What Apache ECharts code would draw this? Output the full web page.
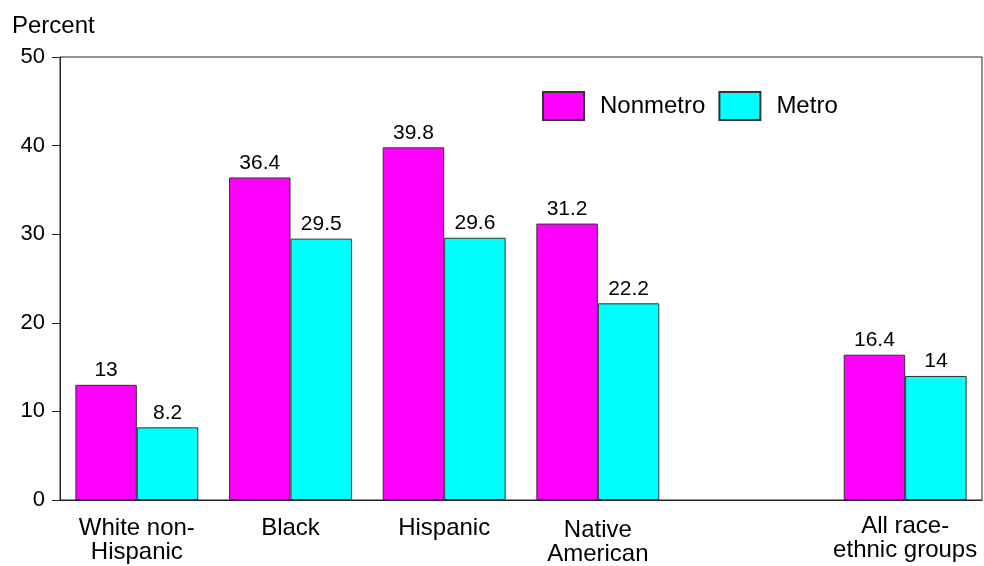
<!DOCTYPE html>
<html>
<head>
<meta charset="utf-8">
<script src="https://cdn.jsdelivr.net/npm/echarts@6/dist/echarts.min.js"></script>
<style>
  html, body { margin: 0; padding: 0; background: #fff; }
  #chart { width: 984px; height: 566px; }
</style>
</head>
<body>
<div id="chart"></div>
<script>
// Category slots; the empty slot separates the group total from the individual groups
const categories = ['White non-\nHispanic', 'Black', 'Hispanic', 'Native\nAmerican', '', 'All race-\nethnic groups'];
const nonmetro = [13, 36.4, 39.8, 31.2, null, 16.4];
const metro = [8.2, 29.5, 29.6, 22.2, null, 14];
const yTicks = [0, 10, 20, 30, 40, 50];

const FONT = 'Liberation Sans, Arial, Helvetica, sans-serif';

const chart = echarts.init(document.getElementById('chart'), null, { renderer: 'canvas' });

const labelStyle = {
  show: true,
  position: 'top',
  distance: 4,
  color: '#000',
  fontFamily: FONT,
  fontSize: 21
};

chart.setOption({
  animation: false,
  backgroundColor: '#fff',
  grid: {
    left: 60, right: 2, top: 57, bottom: 66,
    show: true, borderColor: '#222', borderWidth: 1, backgroundColor: 'transparent'
  },
  legend: {
    data: ['Nonmetro', 'Metro'],
    left: 542, top: 91, padding: 0,
    itemWidth: 41, itemHeight: 28,
    itemGap: 13,
    textStyle: { fontFamily: FONT, fontSize: 24, color: '#000', padding: [0, 0, 0, 11] },
    icon: 'rect'
  },
  xAxis: {
    type: 'category',
    data: categories.map(function (c) {
      if (c.indexOf('Native') === 0) {
        return { value: c, textStyle: { padding: [2, 0, 0, 0] } };
      }
      if (c.indexOf('All') === 0) {
        return { value: c, textStyle: { padding: [-2, 0, 0, 0] } };
      }
      return c;
    }),
    axisLine: { show: true, lineStyle: { color: '#222', width: 1 } },
    axisTick: { show: false },
    axisLabel: {
      interval: 0, margin: 16, color: '#000',
      fontFamily: FONT, fontSize: 24, lineHeight: 24
    }
  },
  yAxis: {
    type: 'value',
    min: 0, max: 50, interval: 10,
    name: 'Percent',
    nameLocation: 'end',
    nameGap: 19,
    nameTextStyle: { fontFamily: FONT, fontSize: 24, color: '#000', align: 'left', padding: [0, 0, 0, -48] },
    axisLine: { show: true, lineStyle: { color: '#222', width: 1 } },
    axisTick: { show: true, length: 8, lineStyle: { color: '#222' } },
    axisLabel: {
      margin: 15, color: '#000', fontFamily: FONT, fontSize: 22,
      formatter: function (v) { return yTicks.indexOf(v) >= 0 ? String(v) : ''; }
    },
    splitLine: { show: false }
  },
  series: [
    {
      name: 'Nonmetro', type: 'bar', data: nonmetro,
      barGap: '0%', barCategoryGap: '20%',
      itemStyle: { color: '#ff00ff', borderColor: '#333', borderWidth: 1 },
      label: labelStyle
    },
    {
      name: 'Metro', type: 'bar', data: metro,
      barGap: '0%', barCategoryGap: '20%',
      itemStyle: { color: '#00ffff', borderColor: '#333', borderWidth: 1 },
      label: labelStyle
    }
  ]
});
</script>
</body>
</html>
